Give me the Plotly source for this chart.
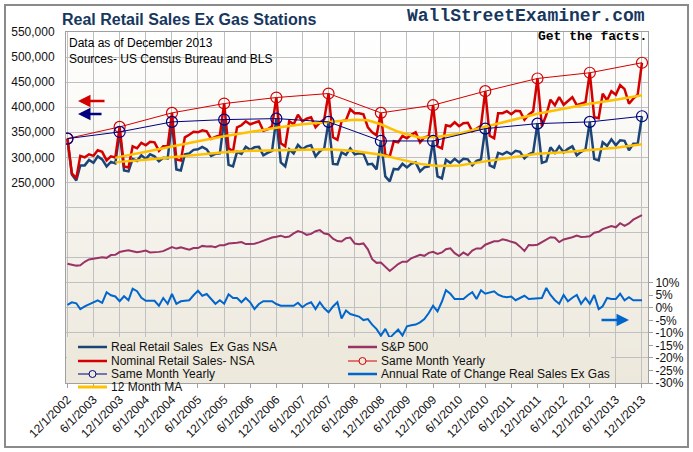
import plotly.graph_objects as go
import pandas as pd

# ---------------- DATA ----------------
months = pd.date_range("2002-12-01", "2013-12-01", freq="MS")

# Real Retail Sales Ex Gas NSA (thousands of $)
real_sales = [
    337.4,
    266, 254, 284, 284, 295, 289, 302, 296, 282, 291, 288, 350.7,
    274, 272, 297, 293, 304, 297, 306, 302, 292, 299, 298, 370.7,
    276, 274, 306, 308, 315, 316, 321, 316, 303, 307, 308, 375.3,
    285, 282, 311, 307, 321, 315, 320, 321, 304, 309, 313, 377.3,
    290, 282, 316, 308, 325, 316, 322, 324, 302, 312, 318, 370.7,
    287, 286, 310, 305, 318, 306, 308, 307, 286, 287, 276, 332.7,
    262, 252, 277, 276, 287, 280, 287, 290, 272, 280, 282, 332.7,
    262, 258, 295, 289, 297, 290, 297, 296, 284, 293, 296, 357.3,
    284, 280, 309, 306, 311, 306, 313, 311, 298, 306, 310, 367.3,
    289, 292, 320, 309, 322, 310, 317, 322, 304, 311, 316, 370.7,
    297, 294, 330, 323, 336, 324, 334, 333, 314, 327, 327, 382.0,
]

# Nominal Retail Sales NSA (thousands of $)
nominal_sales = [
    337.4,
    268, 258, 303, 300, 306, 303, 314, 311, 294, 302, 300, 360.7,
    282, 280, 322, 318, 329, 324, 331, 330, 313, 322, 322, 388.7,
    296, 294, 340, 345, 351, 350, 354, 352, 337, 341, 344, 407.3,
    318, 312, 360, 364, 372, 366, 369, 372, 353, 356, 362, 419.3,
    328, 322, 372, 366, 385, 372, 377, 380, 360, 369, 376, 427.3,
    340, 335, 372, 374, 396, 388, 388, 386, 360, 350, 344, 388.7,
    305, 302, 332, 330, 343, 338, 345, 350, 330, 340, 342, 404.0,
    322, 318, 364, 362, 370, 362, 368, 369, 352, 358, 363, 432.0,
    343, 338, 388, 388, 392, 386, 393, 392, 375, 385, 392, 457.3,
    362, 385, 415, 404, 420, 405, 412, 420, 404, 407, 410, 468.7,
    380, 378, 427, 414, 432, 425, 444, 436, 407, 417, 425, 488.7,
]

# S&P 500 monthly
sp500 = [
    880,
    856, 841, 848, 917, 964, 975, 990, 1008, 996, 1051, 1058, 1112,
    1131, 1145, 1126, 1107, 1121, 1141, 1102, 1104, 1115, 1130, 1174, 1212,
    1181, 1204, 1181, 1157, 1192, 1191, 1234, 1220, 1229, 1207, 1249, 1248,
    1280, 1281, 1295, 1311, 1270, 1270, 1277, 1304, 1336, 1378, 1401, 1418,
    1438, 1407, 1421, 1482, 1531, 1503, 1455, 1474, 1527, 1549, 1481, 1468,
    1379, 1331, 1323, 1386, 1400, 1280, 1267, 1283, 1165, 969, 896, 903,
    826, 735, 798, 873, 919, 919, 987, 1021, 1057, 1036, 1096, 1115,
    1074, 1104, 1169, 1187, 1089, 1031, 1102, 1049, 1141, 1183, 1181, 1258,
    1286, 1327, 1326, 1364, 1345, 1321, 1292, 1219, 1131, 1253, 1247, 1258,
    1312, 1366, 1408, 1398, 1310, 1362, 1379, 1407, 1441, 1412, 1416, 1426,
    1498, 1515, 1569, 1598, 1631, 1606, 1686, 1633, 1682, 1757, 1806, 1848,
]

# Annual rate of change, real sales ex gas (%)
roc_pct = [
    1.2,
    2.2, 1.8, -0.5, 0.6, 1.5, 2.2, 3.0, 2.0, 6.2, 5.0, 4.5, 2.6,
    4.6, 3.0, 7.6, 6.6, 4.0, 2.8, 2.9, 2.8, 0.8, 3.9, 1.6, 5.5,
    1.6, 2.6, 2.8, 3.0, 5.0, 6.8, 4.8, 5.5, 3.5, 1.6, 3.0, 1.6,
    5.4, 3.9, 3.9, 2.2, 3.9, 2.2, -0.5, 1.5, 2.6, 2.6, 2.6, 1.5,
    0.8, 0.8, 0.8, 0.8, 2.0, 0.2, 1.5, 2.2, -0.5, 2.2, -0.2, -1.8,
    0.5, 2.2, -4.3, -1.1, -2.5, -3.1, -3.5, -4.9, -4.5, -6.7, -8.5, -11.1,
    -8.4, -12.0, -10.5, -8.7, -11.1, -7.4, -7.0, -6.7, -5.8, -4.5, -2.1, 0.8,
    -1.4, 2.5, 7.0, 5.6, 3.5, 3.5, 3.5, 5.0, 6.2, 3.5, 7.0, 5.6,
    6.0, 6.6, 5.2, 4.5, 4.2, 4.5, 3.0, 4.0, 4.8, 3.5, 3.7, 3.9,
    3.9, 7.9, 5.1, 3.0, 1.6, 5.1, 2.6, 4.0, 5.1, 1.6, 3.9, 1.6,
    5.1, -0.5, 0.6, 3.9, 3.5, 3.5, 5.6, 3.0, 4.2, 3.0, 3.0, 3.0,
]

# 12 month moving averages (thousands of $)
ma_dates = ["2003-11-01", "2003-12-01", "2004-06-01", "2004-12-01", "2005-06-01",
            "2005-12-01", "2006-06-01", "2006-12-01", "2007-06-01", "2007-12-01",
            "2008-06-01", "2008-09-01", "2008-12-01", "2009-04-01", "2009-09-01",
            "2010-01-01", "2010-06-01", "2010-12-01", "2011-06-01", "2011-12-01",
            "2012-06-01", "2012-12-01", "2013-06-01", "2013-12-01"]
real_ma = [290, 291, 295, 300, 305, 310, 313, 314, 316, 316, 312.5, 309,
           305, 297, 287, 283, 284, 292, 300, 307, 310, 315, 319, 326]
nominal_ma = [299, 301, 311, 322, 332, 342, 351, 359, 366, 371, 375, 374,
              366, 351, 339, 341, 347, 361, 374, 387, 397, 407, 415, 424]

tick_dates = ["2002-12-01", "2003-06-01", "2003-12-01", "2004-06-01", "2004-12-01",
              "2005-06-01", "2005-12-01", "2006-06-01", "2006-12-01", "2007-06-01",
              "2007-12-01", "2008-06-01", "2008-12-01", "2009-06-01", "2009-12-01",
              "2010-06-01", "2010-12-01", "2011-06-01", "2011-12-01", "2012-06-01",
              "2012-12-01", "2013-06-01", "2013-12-01"]
tick_labels = ["12/1/2002", "6/1/2003", "12/1/2003", "6/1/2004", "12/1/2004",
               "6/1/2005", "12/1/2005", "6/1/2006", "12/1/2006", "6/1/2007",
               "12/1/2007", "6/1/2008", "12/1/2008", "6/1/2009", "12/1/2009",
               "6/1/2010", "12/1/2010", "6/1/2011", "12/1/2011", "6/1/2012",
               "12/1/2012", "6/1/2013", "12/1/2013"]

left_tick_vals = [-150, -100, -50, 0, 50, 100, 150, 200, 250, 300, 350, 400, 450, 500, 550]
left_tick_labels = ["", "", "", "", "", "", "", "", "250,000", "300,000", "350,000",
                    "400,000", "450,000", "500,000", "550,000"]
right_tick_vals = [-30, -25, -20, -15, -10, -5, 0, 5, 10]
right_tick_labels = ["-30%", "-25%", "-20%", "-15%", "-10%", "-5%", "0%", "5%", "10%"]

# ---------------- STYLE ----------------
FONT = "Liberation Sans, Arial, sans-serif"
NAVY = "#1b4577"
RED = "#d40000"
DARKNAVY = "#000080"
GOLD = "#ffc000"
MAROON = "#993366"
BLUE = "#0066cc"
GRID = "#c0c0c0"

W_PX, H_PX = 693, 452
L, R, T, B = 66, 648, 32, 383
PW, PH = R - L, B - T


def px(x):
    return (x - L) / PW


def py(y):
    return (B - y) / PH


fig = go.Figure()

fig.add_trace(go.Scatter(x=months, y=real_sales, mode="lines",
                         line=dict(color=NAVY, width=2.5), name="Real Retail Sales  Ex Gas NSA"))
fig.add_trace(go.Scatter(x=months, y=nominal_sales, mode="lines",
                         line=dict(color=RED, width=2.5), name="Nominal Retail Sales- NSA"))
fig.add_trace(go.Scatter(x=ma_dates, y=real_ma, mode="lines",
                         line=dict(color=GOLD, width=2.5), name="12 Month MA"))
fig.add_trace(go.Scatter(x=ma_dates, y=nominal_ma, mode="lines",
                         line=dict(color=GOLD, width=2.5), name="12 Month MA"))
fig.add_trace(go.Scatter(x=months[::12], y=nominal_sales[::12], mode="lines+markers",
                         line=dict(color=RED, width=1),
                         marker=dict(symbol="circle-open", size=11, color=RED, line=dict(width=1.2)),
                         name="Same Month Yearly"))
fig.add_trace(go.Scatter(x=months[::12], y=real_sales[::12], mode="lines+markers",
                         line=dict(color=DARKNAVY, width=1),
                         marker=dict(symbol="circle-open", size=11, color=DARKNAVY, line=dict(width=1.2)),
                         name="Same Month Yearly"))
fig.add_trace(go.Scatter(x=months, y=sp500, mode="lines", yaxis="y3",
                         line=dict(color=MAROON, width=2), name="S&P 500"))
fig.add_trace(go.Scatter(x=months, y=roc_pct, mode="lines", yaxis="y2",
                         line=dict(color=BLUE, width=2), name="Annual Rate of Change Real Sales Ex Gas"))

# ---------------- SHAPES ----------------
shapes = []
# plot-area gradient (white top -> beige bottom)
n_bands = 40
top_rgb = (255, 255, 255)
bot_rgb = (236, 232, 220)
for i in range(n_bands):
    f = (i + 0.5) / n_bands
    c = tuple(round(bot_rgb[k] + (top_rgb[k] - bot_rgb[k]) * f) for k in range(3))
    shapes.append(dict(type="rect", xref="x domain", yref="y domain",
                       x0=0, x1=1, y0=i / n_bands, y1=(i + 1) / n_bands + 0.002,
                       fillcolor="rgb(%d,%d,%d)" % c, line=dict(width=0), layer="below"))

# legend background
shapes.append(dict(type="rect", xref="paper", yref="paper",
                   x0=px(67), x1=px(611), y0=py(383), y1=py(337),
                   fillcolor="rgb(237,233,221)", line=dict(width=0), layer="above"))

# outer chart border
shapes.append(dict(type="rect", xref="paper", yref="paper",
                   x0=px(5), x1=px(688), y0=py(447), y1=py(5),
                   line=dict(color="#8a8a8a", width=2), fillcolor="rgba(0,0,0,0)", layer="above"))

annotations = []

# legend entries
rows = [347, 361, 374, 387]
legend_items = [
    (0, 0, NAVY, 2.5, False, "Real Retail Sales\u00a0 Ex Gas NSA"),
    (1, 0, MAROON, 2.5, False, "S&P 500"),
    (0, 1, RED, 2.5, False, "Nominal Retail Sales- NSA"),
    (1, 1, RED, 1, True, "Same Month Yearly"),
    (0, 2, DARKNAVY, 1, True, "Same Month Yearly"),
    (1, 2, BLUE, 2.5, False, "Annual Rate of Change Real Sales Ex Gas"),
    (0, 3, GOLD, 3, False, "12 Month MA"),
]
col_x = [(78, 107, 109), (348, 377, 379)]
for col, row, color, w, marker, label in legend_items:
    x0, x1, tx = col_x[col]
    yy = rows[row]
    shapes.append(dict(type="line", xref="paper", yref="paper",
                       x0=px(x0), x1=px(x1), y0=py(yy), y1=py(yy),
                       line=dict(color=color, width=w), layer="above"))
    if marker:
        cx = (x0 + x1) / 2
        shapes.append(dict(type="circle", xref="paper", yref="paper",
                           x0=px(cx - 3.5), x1=px(cx + 3.5), y0=py(yy + 3.5), y1=py(yy - 3.5),
                           line=dict(color=color, width=1), fillcolor="rgb(237,233,221)",
                           layer="above"))
    annotations.append(dict(xref="paper", yref="paper", x=px(tx), y=py(yy),
                            xanchor="left", yanchor="middle", showarrow=False,
                            text=label, font=dict(family=FONT, size=12, color="#111")))

# titles / notes
annotations += [
    dict(xref="paper", yref="paper", x=px(60), y=py(19), xanchor="left", yanchor="middle",
         showarrow=False, text="<b>Real Retail Sales Ex Gas Stations</b>",
         font=dict(family=FONT, size=16, color="#17375e")),
    dict(xref="paper", yref="paper", x=px(647), y=py(16), xanchor="right", yanchor="middle",
         showarrow=False, text="<b>WallStreetExaminer.com</b>",
         font=dict(family="Liberation Mono, DejaVu Sans Mono, monospace", size=18, color="#17375e")),
    dict(xref="paper", yref="paper", x=px(649), y=py(36), xanchor="right", yanchor="middle",
         showarrow=False, text="<b>Get the facts.</b>",
         font=dict(family="Liberation Mono, DejaVu Sans Mono, monospace", size=13, color="#000")),
    dict(xref="paper", yref="paper", x=px(67), y=py(43), xanchor="left", yanchor="middle",
         showarrow=False, text="Data as of December 2013",
         font=dict(family=FONT, size=12, color="#000")),
    dict(xref="paper", yref="paper", x=px(67), y=py(59), xanchor="left", yanchor="middle",
         showarrow=False, text="Sources- US Census Bureau and BLS",
         font=dict(family=FONT, size=12, color="#000")),
    # arrows
    dict(xref="paper", yref="paper", x=px(78), y=py(101), ax=28, ay=0, text="",
         showarrow=True, arrowhead=2, arrowsize=1, arrowwidth=2.5, arrowcolor=RED),
    dict(xref="paper", yref="paper", x=px(78), y=py(114), ax=25, ay=0, text="",
         showarrow=True, arrowhead=2, arrowsize=1, arrowwidth=2.5, arrowcolor=DARKNAVY),
    dict(xref="paper", yref="paper", x=px(629), y=py(320), ax=-29, ay=0, text="",
         showarrow=True, arrowhead=2, arrowsize=1, arrowwidth=2.5, arrowcolor=BLUE),
]

fig.update_layout(
    template="none",
    width=W_PX, height=H_PX,
    margin=dict(l=L, r=W_PX - R, t=T, b=H_PX - B, pad=0),
    paper_bgcolor="white", plot_bgcolor="white",
    showlegend=False,
    hovermode=False,
    font=dict(family=FONT, size=12, color="#111"),
    xaxis=dict(type="date", range=["2002-11-21", "2014-01-12"],
               tickvals=tick_dates, ticktext=tick_labels, tickangle=-45,
               tickfont=dict(family=FONT, size=12, color="#111"),
               showgrid=True, gridcolor=GRID, gridwidth=1,
               showline=True, linecolor="#a0a0a0", linewidth=1, mirror=True,
               ticks="outside", ticklen=4, tickcolor="#a0a0a0", zeroline=False,
               automargin=False),
    yaxis=dict(range=[-150, 550], tickvals=left_tick_vals, ticktext=left_tick_labels,
               tickfont=dict(family=FONT, size=12, color="#111"),
               showgrid=True, gridcolor=GRID, gridwidth=1,
               showline=True, linecolor="#a0a0a0", linewidth=1, mirror=True,
               ticks="", ticklabelstandoff=8, zeroline=False, automargin=False),
    yaxis2=dict(range=[-30, 110], overlaying="y", side="right",
                tickvals=right_tick_vals, ticktext=right_tick_labels,
                tickfont=dict(family=FONT, size=12, color="#111"),
                showgrid=False, zeroline=False, ticks="outside", ticklen=4,
                tickcolor="#a0a0a0", showline=False, automargin=False),
    yaxis3=dict(range=[-1500, 5500], overlaying="y", visible=False, showgrid=False,
                zeroline=False),
    shapes=shapes,
    annotations=annotations,
)

fig.write_html("out.html",
               config={"displayModeBar": False},
               post_script="document.body.style.margin='0';document.body.style.overflow='hidden';")
